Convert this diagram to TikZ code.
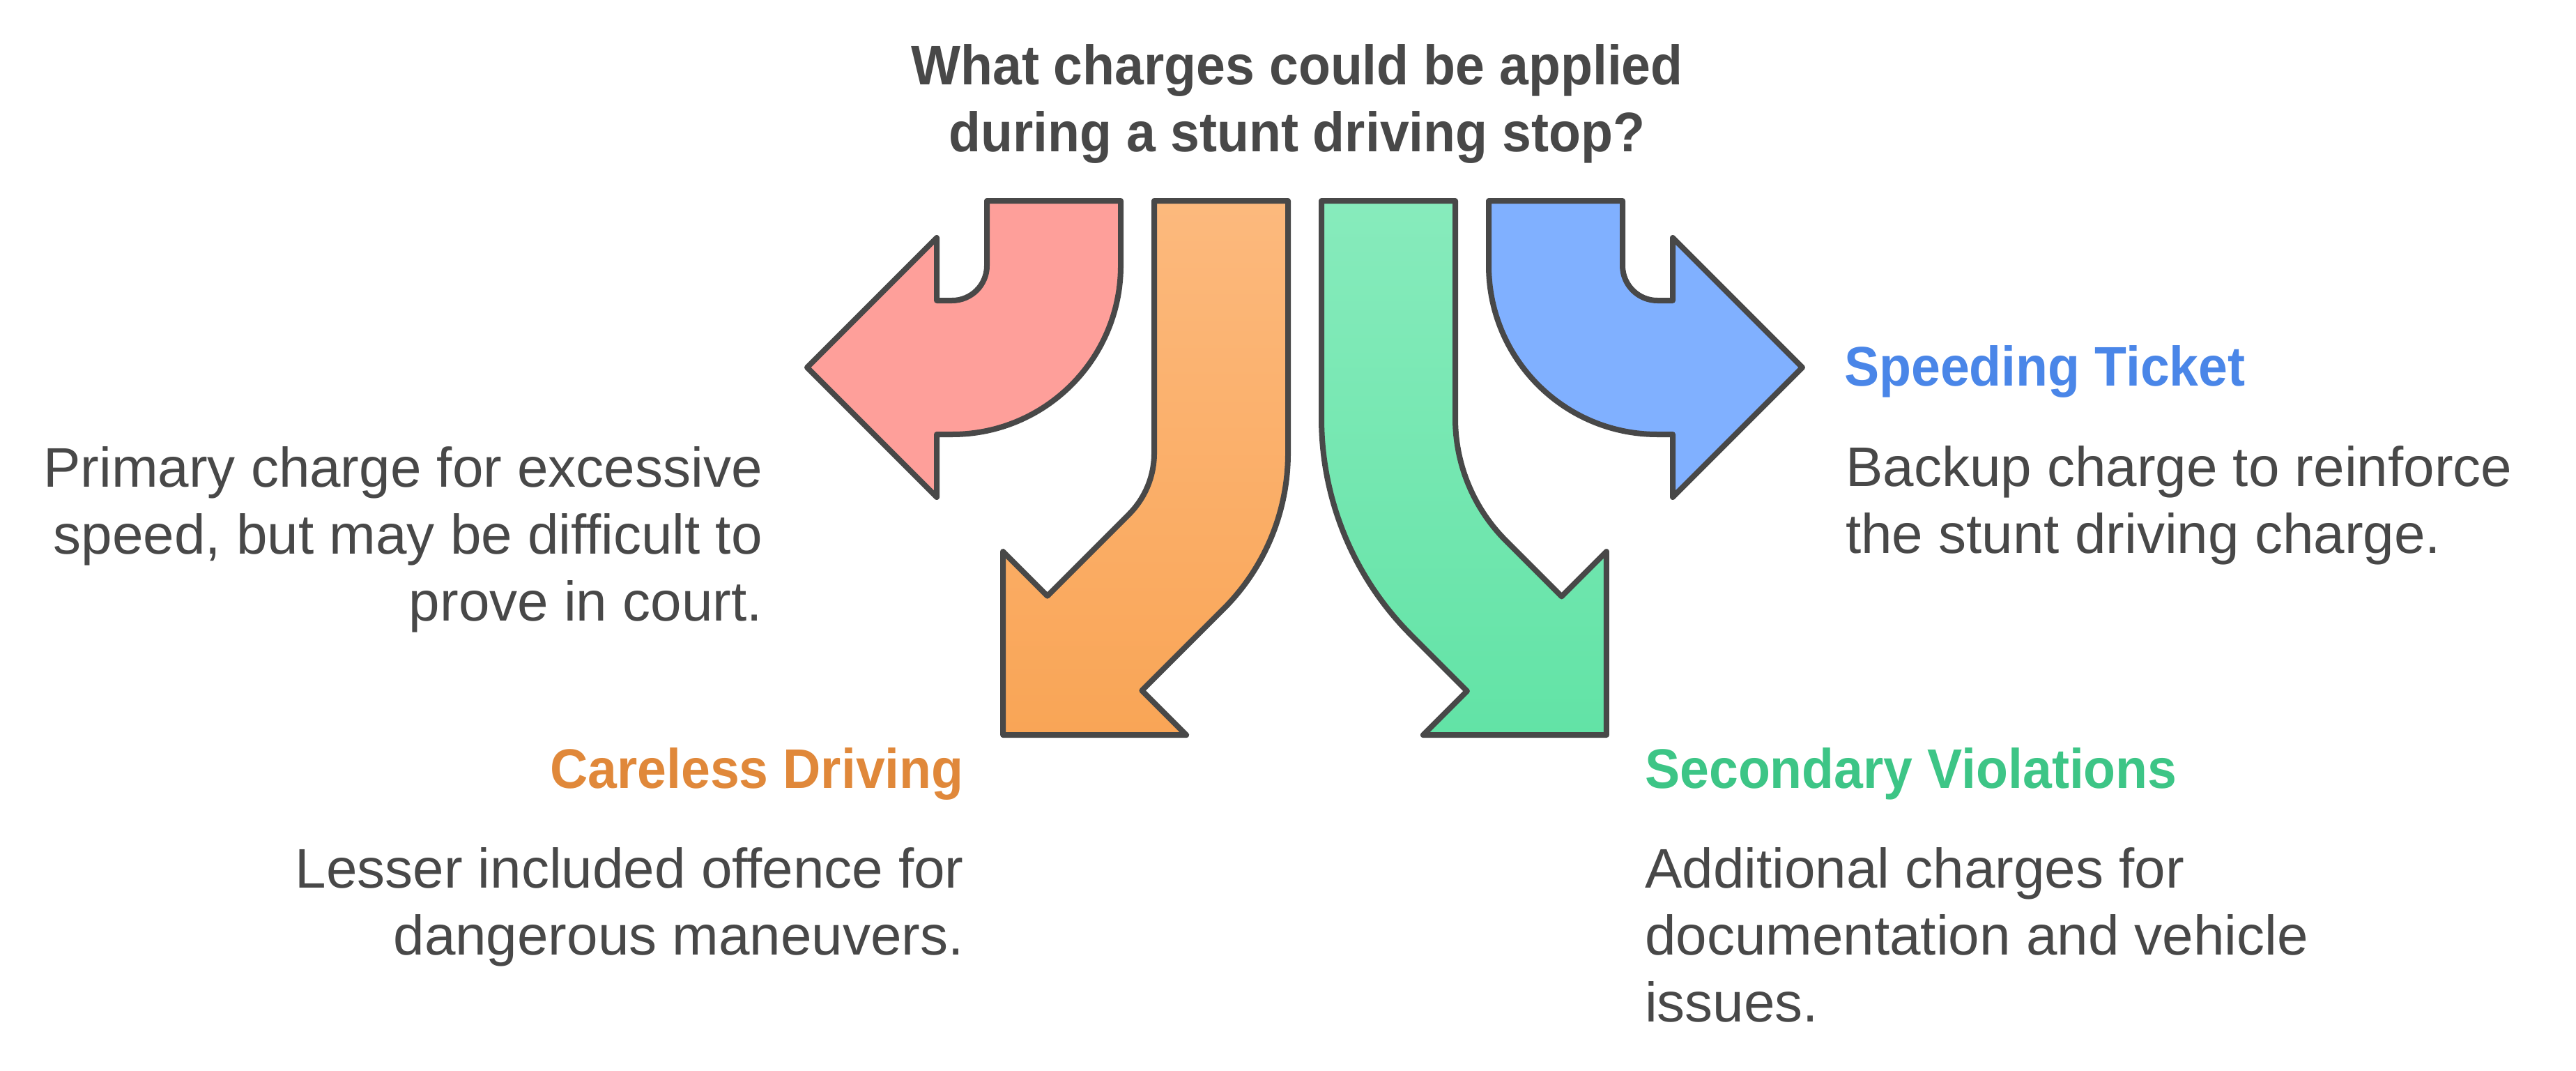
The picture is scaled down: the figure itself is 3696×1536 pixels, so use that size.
\documentclass[tikz,border=0pt]{standalone}
\usepackage{fontspec}
\setmainfont{Liberation Sans}
\newfontfamily\headfont{Liberation Sans}[FakeStretch=0.94]
\definecolor{ink}{HTML}{484848}
\definecolor{redfill}{HTML}{FE9F9A}
\definecolor{bluefill}{HTML}{80B0FF}
\definecolor{orangetop}{HTML}{FCB97D}
\definecolor{orangebot}{HTML}{F9A556}
\definecolor{greentop}{HTML}{87EBBC}
\definecolor{greenbot}{HTML}{62E3A6}
\definecolor{bluetext}{HTML}{4A86E8}
\definecolor{orangetext}{HTML}{E0883A}
\definecolor{greentext}{HTML}{3DC586}
\begin{document}
\begin{tikzpicture}[x=1pt,y=-1pt,
  shape outline/.style={draw=ink, line width=8pt, line join=round},
  body/.style={font=\fontsize{80}{96}\selectfont, text=ink, inner sep=0pt},
  head/.style={font=\headfont\bfseries\fontsize{80}{96}\selectfont, inner sep=0pt}]
\useasboundingbox (0,0) rectangle (3696,1536);

% red arrow (left)
\path[shape outline, fill=redfill]
  (1416,288) -- (1608,288) -- (1608,381)
  .. controls (1608,514.7) and (1499.7,623) .. (1366,623)
  -- (1344,623) -- (1344,713) -- (1158,527) -- (1344,341) -- (1344,431) -- (1366,431)
  .. controls (1393.6,431) and (1416,408.6) .. (1416,381) -- cycle;

% blue arrow (right)
\path[shape outline, fill=bluefill]
  (2328,288) -- (2136,288) -- (2136,381)
  .. controls (2136,514.7) and (2244.3,623) .. (2378,623)
  -- (2400,623) -- (2400,713) -- (2586,527) -- (2400,341) -- (2400,431) -- (2378,431)
  .. controls (2350.4,431) and (2328,408.6) .. (2328,381) -- cycle;

% orange arrow (down-left)
\path[shape outline, top color=orangetop, bottom color=orangebot]
  (1656,288) -- (1848,288) -- (1848,650)
  .. controls (1848,733.8) and (1814.7,814.1) .. (1755.4,873.4)
  -- (1638.4,990.4) -- (1702.1,1054.1) -- (1439.1,1054.1) -- (1439.1,791.1)
  -- (1502.7,854.7) -- (1619.7,737.7)
  .. controls (1643,714.4) and (1656,682.9) .. (1656,650) -- cycle;

% green arrow (down-right)
\path[shape outline, top color=greentop, bottom color=greenbot]
  (1896,288) -- (2088,288) -- (2088,600)
  .. controls (2088,665.8) and (2114.1,728.9) .. (2160.6,775.4)
  -- (2240.6,855.4) -- (2304.9,791.1) -- (2304.9,1054.1) -- (2041.9,1054.1)
  -- (2104.9,991.1) -- (2024.9,911.1)
  .. controls (1942.4,828.6) and (1896,716.7) .. (1896,600) -- cycle;

% title
\node[head, text=ink, anchor=base] (title) at (1861,122)
  {\begin{tabular}[t]{@{}c@{}}What charges could be applied\\during a stunt driving stop?\end{tabular}};

% left: speeding description
\node[body, anchor=base east] (primary) at (1094,698)
  {\begin{tabular}[t]{@{}r@{}}Primary charge for excessive\\speed, but may be difficult to\\prove in court.\end{tabular}};

% right: speeding ticket
\node[head, text=bluetext, anchor=base west] (speeding) at (2646,553) {Speeding Ticket};
\node[body, anchor=base west] (backup) at (2648,697)
  {\begin{tabular}[t]{@{}l@{}}Backup charge to reinforce\\the stunt driving charge.\end{tabular}};

% bottom left: careless driving
\node[head, text=orangetext, anchor=base east] (careless) at (1383,1130) {Careless Driving};
\node[body, anchor=base east] (lesser) at (1383,1273)
  {\begin{tabular}[t]{@{}r@{}}Lesser included offence for\\dangerous maneuvers.\end{tabular}};

% bottom right: secondary violations
\node[head, text=greentext, anchor=base west] (secondary) at (2360,1130) {Secondary Violations};
\node[body, anchor=base west] (additional) at (2360,1273)
  {\begin{tabular}[t]{@{}l@{}}Additional charges for\\documentation and vehicle\\issues.\end{tabular}};
\end{tikzpicture}
\end{document}
